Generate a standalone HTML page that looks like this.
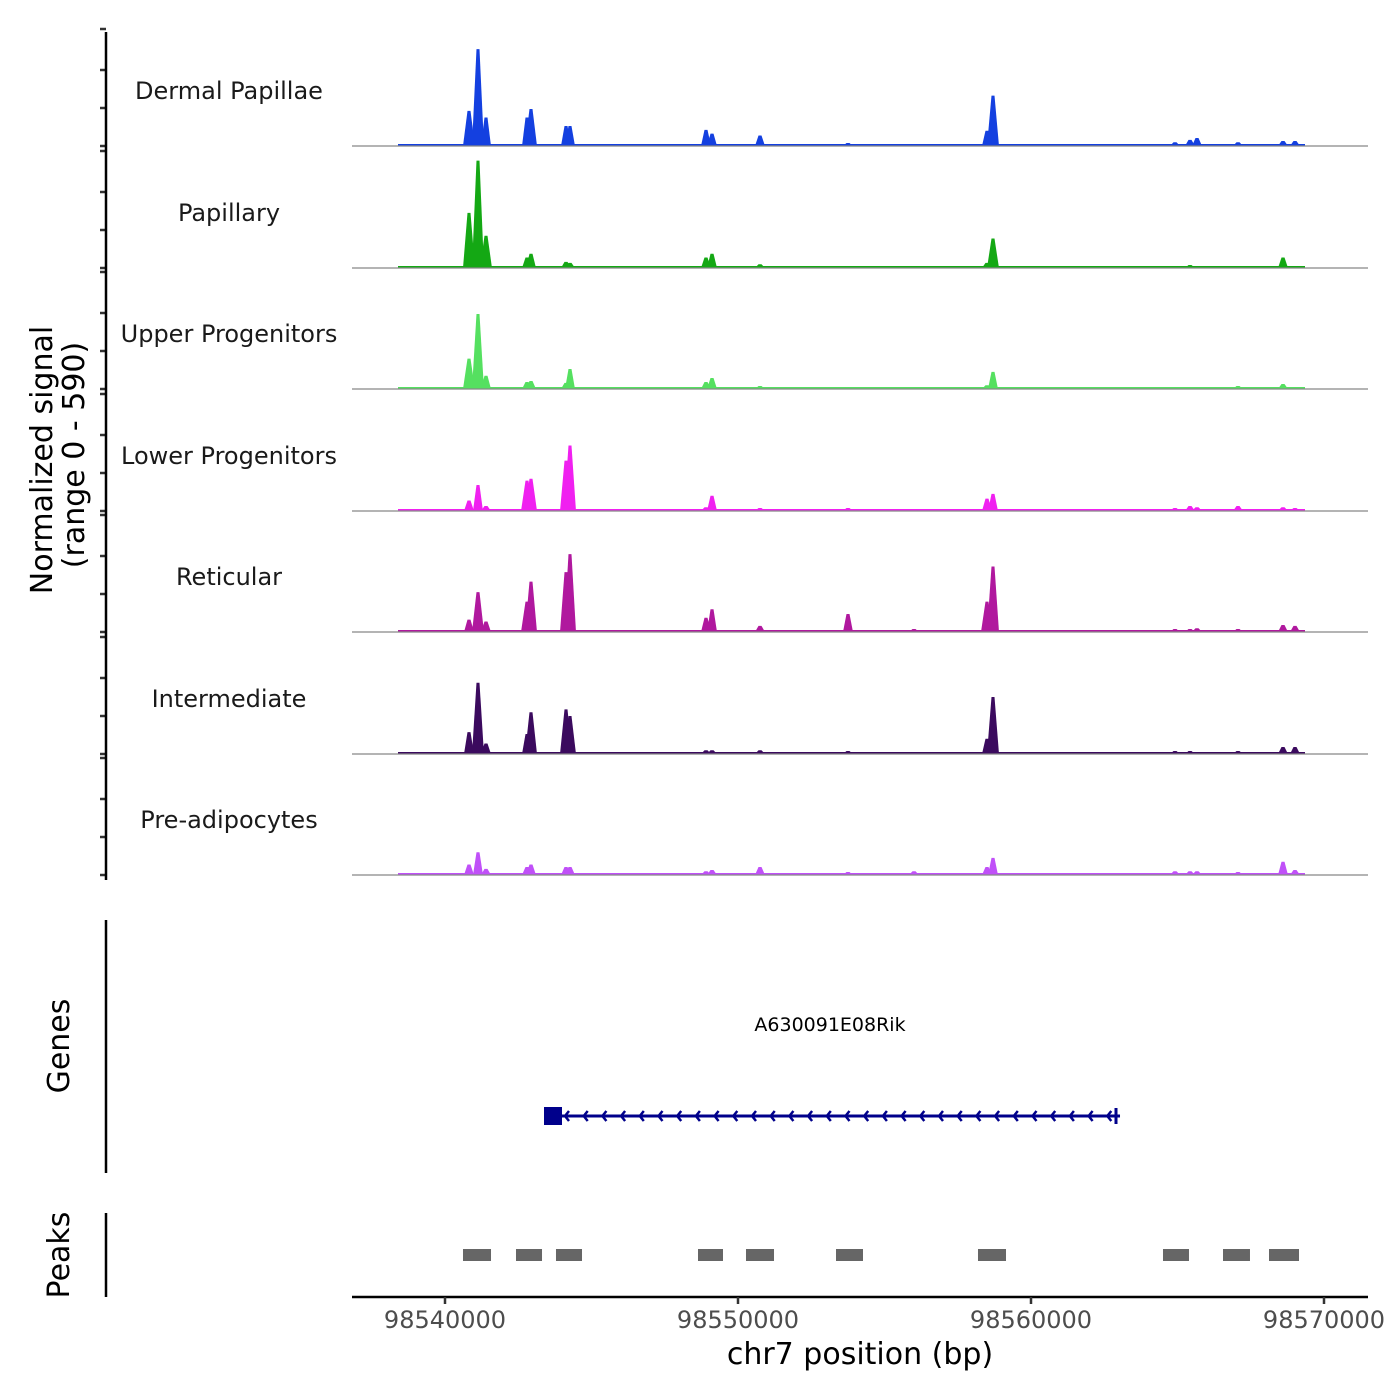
<!DOCTYPE html>
<html><head><meta charset="utf-8"><style>
html,body{margin:0;padding:0;background:#fff;}
svg{display:block;font-family:"DejaVu Sans","Liberation Sans",sans-serif;}
</style></head><body>
<svg id="chart" width="1400" height="1400" viewBox="0 0 1400 1400" xmlns="http://www.w3.org/2000/svg">
<rect width="1400" height="1400" fill="#fff"/>
<g id="tracks"></g>
<g id="genes"></g>
<g id="peaks"></g>
<g id="axes"></g>
<text transform="translate(52,460) rotate(-90)" text-anchor="middle" font-size="30" fill="#000">Normalized signal</text>
<text transform="translate(84,455) rotate(-90)" text-anchor="middle" font-size="30" fill="#000">(range 0 - 590)</text>
<text transform="translate(69,1046) rotate(-90)" text-anchor="middle" font-size="30" fill="#000">Genes</text>
<text transform="translate(69,1255) rotate(-90)" text-anchor="middle" font-size="30" fill="#000">Peaks</text>
<text x="860" y="1364" text-anchor="middle" font-size="30" fill="#000">chr7 position (bp)</text>
</svg>
<script>
const trackNames = ["Dermal Papillae","Papillary","Upper Progenitors","Lower Progenitors","Reticular","Intermediate","Pre-adipocytes"];
const trackColors = ["#1440e0","#14a814","#55e060","#f020f0","#b0189e","#3b0a5e","#c050f8"];
const peakCenters = [98540819,98541126,98541399,98542799,98542935,98544130,98544266,98548908,98549113,98550751,98553754,98556007,98558498,98558703,98564915,98565427,98565666,98567065,98568601,98569010];
const sigDP  = [185,510,150,150,195,105,105,85,65,55,16,10,80,265,20,32,42,20,26,26];
const sigPap = [290,565,170,55,75,32,27,55,75,20,10,10,27,155,10,16,10,10,55,10];
const sigUP  = [160,395,70,37,42,32,105,37,58,16,10,5,20,90,10,10,10,16,26,10];
const sigLP  = [55,137,26,160,170,265,345,20,80,16,16,10,65,90,16,26,20,26,20,16];
const sigRet = [65,210,55,160,265,315,410,75,120,32,95,16,160,345,16,16,20,16,37,32];
const sigInt = [115,375,55,105,220,235,200,20,20,20,16,10,80,300,16,16,10,16,37,37];
const sigPre = [55,120,32,42,55,42,42,20,26,42,16,20,42,90,20,20,20,16,70,26];
const signals = [sigDP,sigPap,sigUP,sigLP,sigRet,sigInt,sigPre];
const peakStarts = [98540614,98542423,98543788,98548635,98550273,98553345,98558191,98564505,98566553,98568123];
const peakEnds   = [98541570,98543311,98544676,98549488,98551229,98554266,98559147,98565392,98567474,98569147];
const geneName = "A630091E08Rik";
const geneStart = 98543686, geneEnd = 98563038;
const xTicks = [98540000,98550000,98560000,98570000];
const yTicks = [0,200,400,600];

const NS="http://www.w3.org/2000/svg";
function mk(tag,attrs,parent){const e=document.createElementNS(NS,tag);for(const k in attrs)e.setAttribute(k,attrs[k]);parent.appendChild(e);return e;}
const xs = bp => 445 + (bp-98540000)*0.0293;
const bases=[146,268,389,511,632,754,875];
const ys = (v,i) => bases[i] - v*0.19;

const tracks=document.getElementById('tracks');
const axes=document.getElementById('axes');
trackNames.forEach((name,i)=>{
  const g=mk('g',{},tracks);
  
  
  const t=mk('text',{x:229,y:bases[i]-47,'text-anchor':'middle','font-size':'24',fill:'#1a1a1a'},g);
  t.textContent=name;
  
  
  const floor=mk('rect',{x:398,y:bases[i]-2,width:907,height:2,fill:trackColors[i]},g);
  
  
  signals[i].forEach((v,j)=>{
    const c=xs(peakCenters[j]);
    const w=v>150?6:5;
    const p=mk('path',{d:`M${c-w},${bases[i]} L${c-1.5},${ys(v,i)} L${c+1.5},${ys(v,i)} L${c+w},${bases[i]} Z`,fill:trackColors[i]},g);
    
    
  });
  const bl=mk('line',{x1:352,x2:1368,y1:bases[i],y2:bases[i],stroke:'#888','stroke-width':1.2},g);
  
  
  yTicks.forEach(v=>{
    const tk=mk('line',{x1:100,x2:106,y1:ys(v,i)+ (v===600?-3:0),y2:ys(v,i)+(v===600?-3:0),stroke:'#333','stroke-width':2.5},axes);
    
    
  });
});
[[32,880],[920,1173],[1213,1297]].forEach(r=>{
  const l=mk('line',{x1:106,x2:106,y1:r[0],y2:r[1],stroke:'#000','stroke-width':2.5},axes);
  
  
});
const genes=document.getElementById('genes');
const gt=mk('text',{x:830,y:1031,'text-anchor':'middle','font-size':'19',fill:'#000'},genes);
gt.textContent=geneName;


const g0=xs(geneStart), g1=xs(geneEnd);
const gl=mk('line',{x1:g0,x2:g1,y1:1116,y2:1116,stroke:'#00008b','stroke-width':3},genes);


for(let x=g0+12;x<g1-4;x+=18.7){
  const a=mk('path',{d:`M${x+4},${1111} L${x},${1116} L${x+4},${1121}`,stroke:'#00008b','stroke-width':2.5,fill:'none'},genes);
  
  
}
const sq=mk('rect',{x:g0-9,y:1107,width:18,height:18,fill:'#00008b'},genes);


const en=mk('line',{x1:g1-4,x2:g1-4,y1:1108,y2:1124,stroke:'#00008b','stroke-width':3},genes);


const peaks=document.getElementById('peaks');
peakStarts.forEach((s,i)=>{
  const r=mk('rect',{x:xs(s),y:1249,width:xs(peakEnds[i])-xs(s),height:12,fill:'#666'},peaks);
  
  
});
const xl=mk('line',{x1:352,x2:1368,y1:1297,y2:1297,stroke:'#000','stroke-width':2.5},axes);


xTicks.forEach(v=>{
  const tk=mk('line',{x1:xs(v),x2:xs(v),y1:1297,y2:1304,stroke:'#333','stroke-width':2.5},axes);
  
  
  const tl=mk('text',{x:xs(v),y:1328,'text-anchor':'middle','font-size':'24',fill:'#4d4d4d'},axes);
  tl.textContent=v;
  
  
});
</script>
</body></html>
